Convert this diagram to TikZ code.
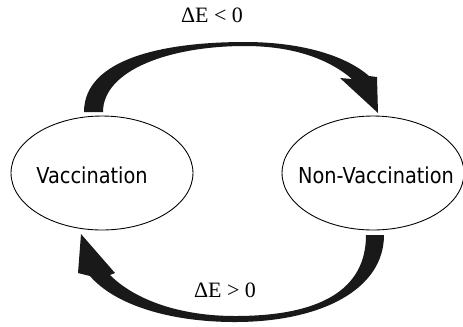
\documentclass[tikz,border=0pt]{standalone}
\usepackage{fontspec}
\usepackage{tikz}
\usetikzlibrary{shapes.geometric}
\newfontfamily\statefont[FakeStretch=0.88]{DejaVu Sans}
\newfontfamily\deltafont{Liberation Serif}
\tikzset{
  state/.style={ellipse, draw, line width=0.5pt, minimum width=3.64cm, minimum height=2.28cm, inner sep=0pt},
  statetext/.style={font=\statefont\fontsize{12.5}{14}\selectfont, inner sep=0pt},
  deltatext/.style={font=\deltafont\fontsize{12.5}{14}\selectfont, inner sep=0pt},
  bentarrow/.style={fill=black!90, draw=none}
}

\begin{document}
\begin{tikzpicture}[x=0.02cm, y=-0.02cm]
\useasboundingbox (0,0) rectangle (463,326);
\node[state] (vac) at (102,173) {}; % Vaccination
\node[state] (nonvac) at (373,173) {}; % Non-Vaccination
\node[statetext] (vaclabel) at (92,175) {Vaccination};
\node[statetext] (nonvaclabel) at (376,175) {Non-Vaccination};
\fill[bentarrow] (84,112) .. controls (84,60) and (160,42) .. (245,42)
  .. controls (300,42) and (345,55) .. (369,76) -- (377,77) -- (378,113)
  -- (340,78) -- (352,79) .. controls (330,60) and (295,46) .. (245,46)
  .. controls (170,46) and (103,70) .. (103,112) -- cycle ; % vac to nonvac
\node[deltatext] (dneg) at (212,15) {ΔE < 0};
\fill[bentarrow] (384,235) .. controls (384,290) and (320,322) .. (235,322)
  .. controls (170,322) and (115,305) .. (90,276) -- (78,273) -- (81,234)
  -- (115,273) -- (110,275) .. controls (135,300) and (180,316) .. (235,316)
  .. controls (320,316) and (366,290) .. (366,235) -- cycle ; % nonvac to vac
\node[deltatext] (dpos) at (225,290) {ΔE > 0};
\end{tikzpicture}
\end{document}
